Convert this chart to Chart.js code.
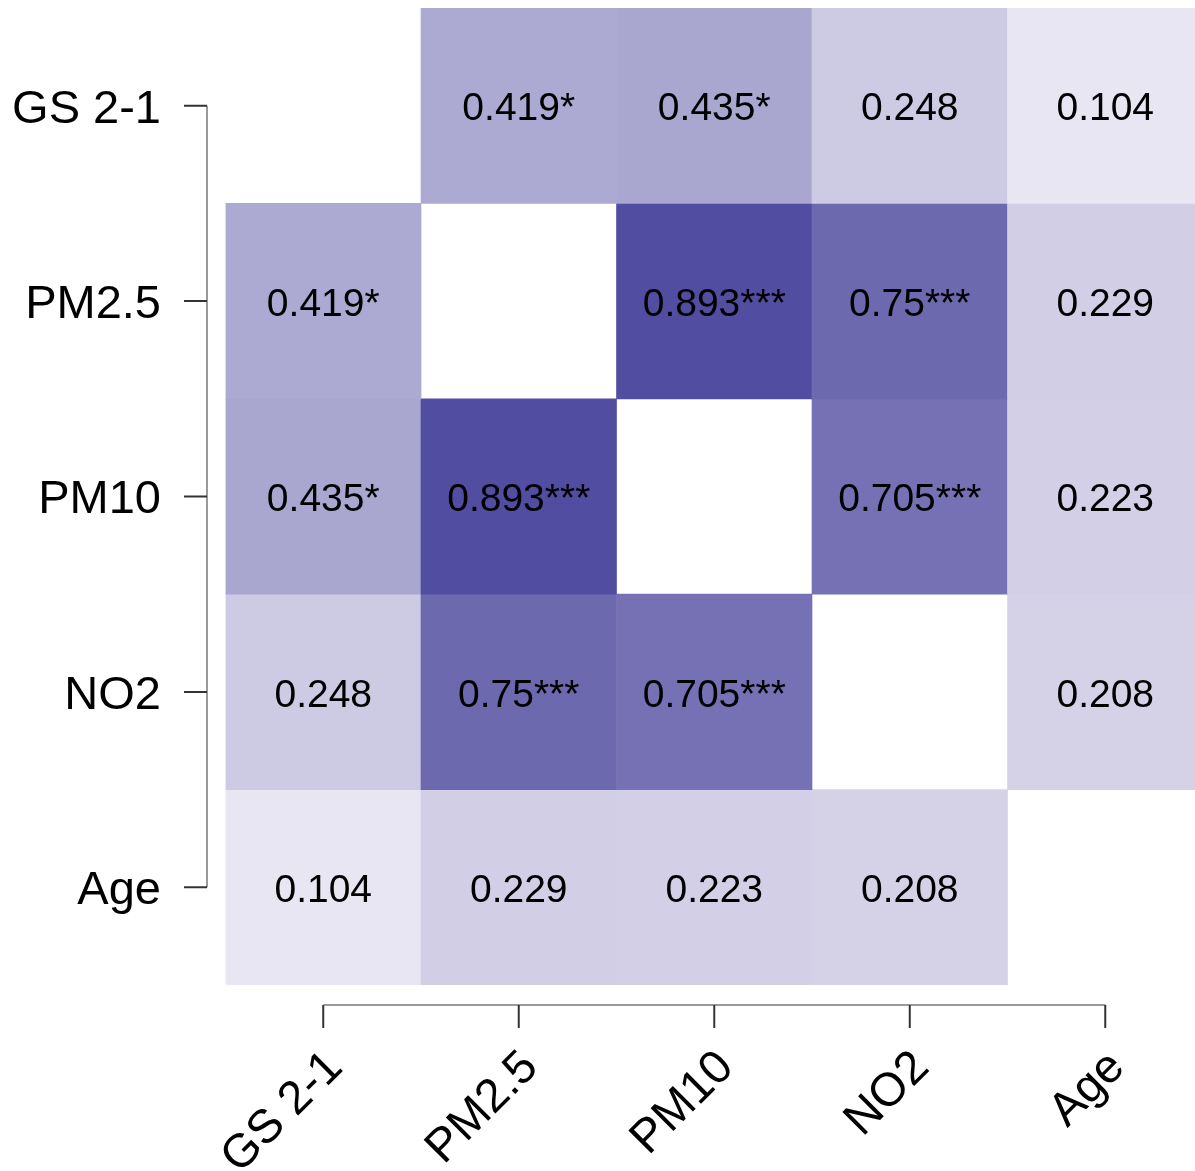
<!DOCTYPE html>
<html>
<head>
<meta charset="utf-8">
<script src="https://cdn.jsdelivr.net/npm/chart.js@4/dist/chart.umd.min.js"></script>
<style>
  html, body { margin: 0; padding: 0; background: #fff; overflow: hidden; }
  #wrap { width: 1195px; height: 1171px; }
</style>
</head>
<body>
<div id="wrap"><canvas id="heatmap"></canvas></div>
<script>
const names = ['GS 2-1', 'PM2.5', 'PM10', 'NO2', 'Age']

const corr = [
  [null, 0.419, 0.435, 0.248, 0.104],
  [0.419, null, 0.893, 0.75, 0.229],
  [0.435, 0.893, null, 0.705, 0.223],
  [0.248, 0.75, 0.705, null, 0.208],
  [0.104, 0.229, 0.223, 0.208, null]
]

const stars = [
  ['', '*', '*', '', ''],
  ['*', '', '***', '***', ''],
  ['*', '***', '', '***', ''],
  ['', '***', '***', '', ''],
  ['', '', '', '', '']
]

const FONT = '"Liberation Sans", Arial, Helvetica, sans-serif'

// white -> purple
function colorFor(v) {
  const r = Math.round(253 - 193 * v)
  const g = Math.round(250 - 194 * v)
  const b = Math.round(254 - 105 * v)
  return `rgb(${r},${g},${b})`
}

const datasets = corr.map((row, r) => {
  const cells = []
  row.forEach((v, c) => {
    if (v !== null) cells.push({ x: c, y: [r - 0.5, r + 0.5], v: v, s: stars[r][c] })
  })
  return {
    data: cells,
    backgroundColor: cells.map(d => colorFor(d.v)),
    borderWidth: 0,
    grouped: false,
    barPercentage: 1,
    categoryPercentage: 1
  }
})

const cellText = {
  id: 'cellText',
  afterDatasetsDraw(chart) {
    const { ctx, scales: { x, y } } = chart
    ctx.save()
    ctx.fillStyle = '#000'
    ctx.font = '39px ' + FONT
    ctx.textAlign = 'center'
    ctx.textBaseline = 'middle'
    datasets.forEach(ds => {
      ds.data.forEach(d => {
        ctx.fillText(String(d.v) + d.s, x.getPixelForValue(d.x), y.getPixelForValue((d.y[0] + d.y[1]) / 2) + 4)
      })
    })
    ctx.restore()
  }
}

// R style axes: line from first to last tick, labels outside
const rAxes = {
  id: 'rAxes',
  afterDraw(chart) {
    const { ctx, scales: { x, y } } = chart
    const y0 = y.getPixelForValue(0)
    const y1 = y.getPixelForValue(names.length - 1)
    const x0 = x.getPixelForValue(0)
    const x1 = x.getPixelForValue(names.length - 1)
    const axX = 207
    const axY = 1005
    ctx.save()
    ctx.strokeStyle = '#9a9a9a'
    ctx.lineWidth = 2
    ctx.beginPath()
    ctx.moveTo(axX, y0); ctx.lineTo(axX, y1)
    ctx.moveTo(x0, axY); ctx.lineTo(x1, axY)
    ctx.stroke()

    ctx.strokeStyle = '#333'
    ctx.beginPath()
    names.forEach((n, i) => {
      const py = y.getPixelForValue(i)
      ctx.moveTo(axX, py); ctx.lineTo(184, py)
      const px = x.getPixelForValue(i)
      ctx.moveTo(px, axY); ctx.lineTo(px, 1028)
    })
    ctx.stroke()

    ctx.fillStyle = '#000'
    ctx.font = '47px ' + FONT
    ctx.textAlign = 'right'
    ctx.textBaseline = 'middle'
    names.forEach((n, i) => {
      ctx.fillText(n, 161, y.getPixelForValue(i) + 4)
    })
    names.forEach((n, i) => {
      ctx.save()
      ctx.translate(x.getPixelForValue(i) + 12, 1060)
      ctx.rotate(-Math.PI / 4)
      ctx.fillText(n, 0, 0)
      ctx.restore()
    })
    ctx.restore()
  }
}

new Chart(document.getElementById('heatmap'), {
  type: 'bar',
  data: { datasets: datasets },
  options: {
    responsive: true,
    maintainAspectRatio: false,
    animation: false,
    events: [],
    layout: { padding: { left: 225.5, top: 8, right: 0, bottom: 186 } },
    plugins: { legend: { display: false }, tooltip: { enabled: false } },
    scales: {
      x: {
        type: 'linear', display: false, offset: false, min: -0.5, max: 4.459,
        ticks: { stepSize: 1, includeBounds: false }
      },
      y: { type: 'linear', display: false, reverse: true, min: -0.5, max: 4.5 }
    }
  },
  plugins: [cellText, rAxes]
})
</script>
</body>
</html>
